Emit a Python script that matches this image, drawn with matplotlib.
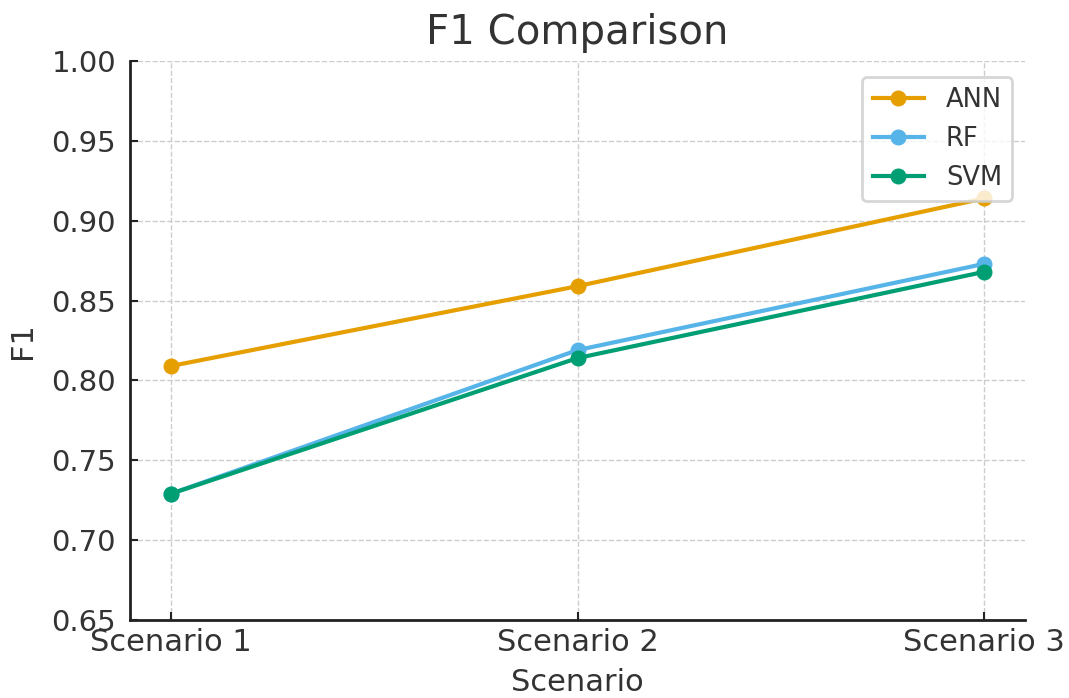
import matplotlib
matplotlib.use("Agg")
import matplotlib.pyplot as plt

scenarios = ["Scenario 1", "Scenario 2", "Scenario 3"]
ann_f1 = [0.809, 0.859, 0.914]
rf_f1 = [0.729, 0.819, 0.873]
svm_f1 = [0.729, 0.814, 0.868]
y_ticks = [0.65, 0.70, 0.75, 0.80, 0.85, 0.90, 0.95, 1.00]

series = [("ANN", ann_f1, "#E69F00"), ("RF", rf_f1, "#56B4E9"), ("SVM", svm_f1, "#009E73")]

text_color = "#333333"
plt.rcParams["font.family"] = "DejaVu Sans"

fig = plt.figure(figsize=(10.69, 6.98), dpi=100)
ax = fig.add_axes([130 / 1069, 1 - 620 / 698, (1025 - 130) / 1069, (620 - 61) / 698])

x = list(range(len(scenarios)))
for name, vals, color in series:
    ax.plot(x, vals, marker="o", markersize=10.5, linewidth=3, color=color, label=name)

ax.set_xlim(-0.1, 2.1)
ax.set_ylim(0.65, 1.00)
ax.set_xticks(x)
ax.set_xticklabels(scenarios)
ax.set_yticks(y_ticks)
ax.set_yticklabels([f"{v:.2f}" for v in y_ticks])

ax.grid(True, linestyle="--", color="#cccccc", linewidth=1)
ax.set_axisbelow(True)
for side in ["top", "right"]:
    ax.spines[side].set_visible(False)
for side in ["left", "bottom"]:
    ax.spines[side].set_color("#222222")
    ax.spines[side].set_linewidth(2)

ax.tick_params(axis="both", direction="in", length=6, width=1.5,
               colors="#222222", labelcolor=text_color)
ax.tick_params(axis="x", labelsize=22, pad=6)
ax.tick_params(axis="y", labelsize=21, pad=10)

ax.set_title("F1 Comparison", fontsize=29, color=text_color, pad=12)
ax.set_xlabel("Scenario", fontsize=22, color=text_color, labelpad=8)
ax.set_ylabel("F1", fontsize=22, color=text_color, labelpad=10)

leg = ax.legend(loc="upper right", fontsize=18.5, frameon=True, borderpad=0.4,
                handlelength=2.0, handletextpad=0.85, labelspacing=0.5,
                framealpha=0.8, bbox_to_anchor=(1.0, 0.995))
leg.get_frame().set_edgecolor("#cccccc")
leg.get_frame().set_linewidth(2)
for t in leg.get_texts():
    t.set_color(text_color)

fig.savefig("out.png", dpi=100)
